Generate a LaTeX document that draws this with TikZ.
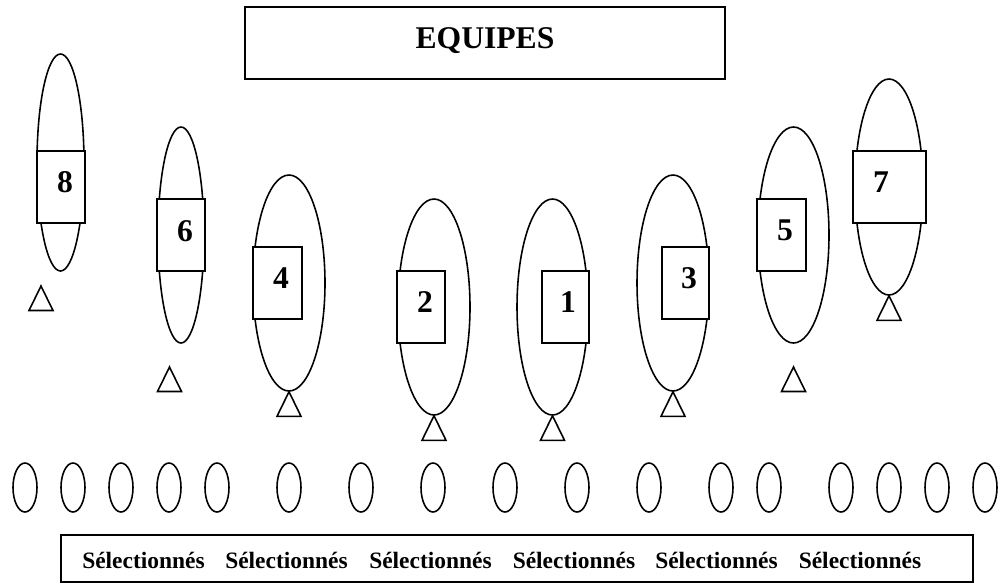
\documentclass[tikz,border=0pt]{standalone}
\usepackage{fontspec}
\setmainfont{Liberation Serif}
\usetikzlibrary{shapes.geometric}
\begin{document}
\begin{tikzpicture}[x=0.02cm,y=-0.02cm,
  line width=0.9pt,
  sz/.style 2 args={minimum width=#1*0.02cm, minimum height=#2*0.02cm},
  balloon/.style={draw,ellipse,inner sep=0pt},
  card/.style={draw,fill=white,rectangle,inner sep=0pt,sz={48}{72}},
  frame/.style={draw,inner sep=0pt,line width=1.1pt},
  num/.style={inner sep=0pt,font=\bfseries\fontsize{18}{18}\selectfont},
  sel/.style={inner sep=0pt,anchor=base,font=\bfseries\fontsize{13.35}{14}\selectfont},
  small/.style={draw,ellipse,inner sep=0pt,sz={24}{49}},
  tri/.pic={\draw (0,0) -- (-12,24.5) -- (12,24.5) -- cycle;}
]
\useasboundingbox (0,0) rectangle (1000,583);

% title
\node[frame,sz={480}{72}] (top) at (485,43) {};
\node[inner sep=0pt,anchor=base,font=\bfseries\fontsize{18}{18}\selectfont] (title) at (485,48) {EQUIPES};

% team balloons
\node[balloon,sz={47}{217}] (e8) at (60.5,162.5) {};
\node[balloon,sz={46}{216}] (e6) at (181,235) {};
\node[balloon,sz={72}{216}] (e4) at (289,283) {};
\node[balloon,sz={72}{216}] (e2) at (434,307) {};
\node[balloon,sz={71}{216}] (e1) at (552.5,307) {};
\node[balloon,sz={72}{216}] (e3) at (673,283) {};
\node[balloon,sz={71}{216}] (e5) at (793.5,235) {};
\node[balloon,sz={68}{216}] (e7) at (889,187) {};

% cards
\node[card] (b8) at (61,187) {};
\node[card] (b6) at (181,235) {};
\node[card,sz={49}{72}] (b4) at (277.5,283) {};
\node[card] (b2) at (421,307) {};
\node[card,sz={47}{72}] (b1) at (565.5,307) {};
\node[card,sz={47}{72}] (b3) at (685.5,283) {};
\node[card,sz={49}{72}] (b5) at (781.5,235) {};
\node[card,sz={73}{72}] (b7) at (889.5,187) {};

% numbers
\node[num] (n8) at (65,182) {8};
\node[num] (n6) at (185,231) {6};
\node[num] (n4) at (281,278) {4};
\node[num] (n2) at (425,302) {2};
\node[num] (n1) at (568,302) {1};
\node[num] (n3) at (689,278) {3};
\node[num] (n5) at (785,230) {5};
\node[num] (n7) at (881,182) {7};

% triangles
\pic at (41,286) {tri};
\pic at (169.5,367) {tri};
\pic at (e4.south) {tri};
\pic at (e2.south) {tri};
\pic at (e1.south) {tri};
\pic at (e3.south) {tri};
\pic at (793.5,367) {tri};
\pic at (e7.south) {tri};

% small ellipses
\foreach \x [count=\i] in {25,73,121,169,217,289,361,433,505,577,649,721,769,841,889,937,985}
  \node[small] (s\i) at (\x,487.5) {};

% selected box
\node[frame,sz={912}{47}] (selbox) at (517,558.5) {};
\foreach \x [count=\i] in {143.5,286.5,430.5,574,716.5,860}
  \node[sel] (t\i) at (\x,568) {Sélectionnés};
\end{tikzpicture}
\end{document}
